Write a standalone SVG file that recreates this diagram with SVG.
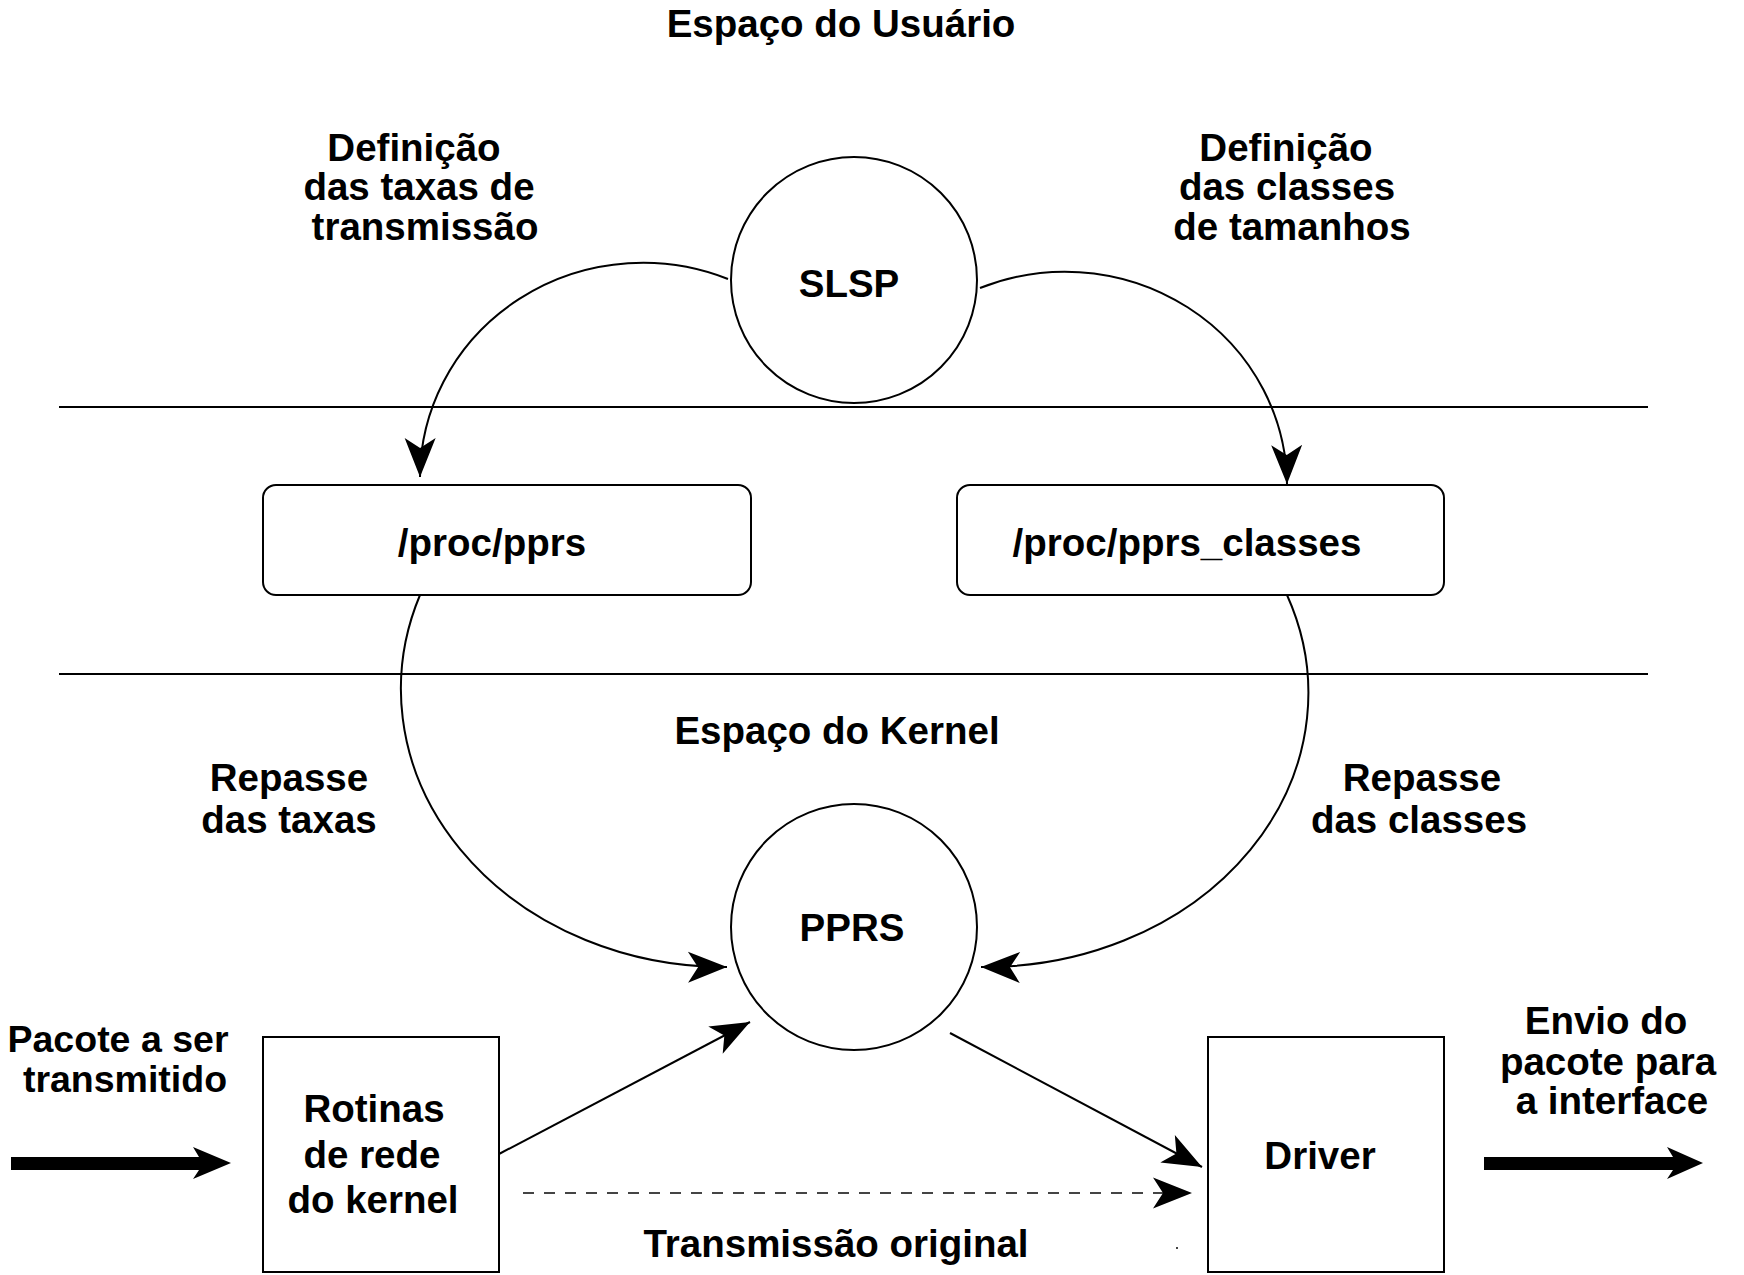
<svg xmlns="http://www.w3.org/2000/svg" width="1744" height="1275" viewBox="0 0 1744 1275">
<style>
text{font-family:"Liberation Sans",Arial,Helvetica,sans-serif;font-weight:bold;font-size:38.5px;fill:#000;text-anchor:middle}
.ln{fill:none;stroke:#000;stroke-width:2}
.sh{fill:#fff;stroke:#000;stroke-width:2}
.dash{fill:none;stroke:#444;stroke-width:2;stroke-dasharray:11 10}
</style>
<defs>
<marker id="ah" viewBox="-42 -18 44 36" refX="0" refY="0" markerWidth="44" markerHeight="36" markerUnits="userSpaceOnUse" orient="auto">
<path d="M0,0 L-39,-15.5 L-29,0 L-39,15.5 Z" fill="#000"/>
</marker>
</defs>
<rect width="1744" height="1275" fill="#fff"/>
<g id="separators">
<line class="ln" x1="59" y1="407" x2="1648" y2="407"/>
<line class="ln" x1="59" y1="674" x2="1648" y2="674"/>
</g>
<g id="labels">
<text x="841" y="37">Espaço do Usuário</text>
<text x="414" y="161">Definição</text>
<text x="419" y="200">das taxas de</text>
<text x="425" y="240">transmissão</text>
<text x="1286" y="161">Definição</text>
<text x="1287" y="200">das classes</text>
<text x="1292" y="240">de tamanhos</text>
<text x="837" y="744">Espaço do Kernel</text>
<text x="289" y="791">Repasse</text>
<text x="289" y="833">das taxas</text>
<text x="1422" y="791">Repasse</text>
<text x="1419" y="833">das classes</text>
<text x="118" y="1052" style="font-size:37.5px">Pacote a ser</text>
<text x="125" y="1092" style="font-size:37.5px">transmitido</text>
<text x="1606" y="1034">Envio do</text>
<text x="1608" y="1075">pacote para</text>
<text x="1612" y="1114">a interface</text>
<text x="836" y="1257">Transmissão original</text>
</g>
<g id="connectors">
<path class="ln" d="M728,279 A223,215 0 0,0 420,477" marker-end="url(#ah)"/>
<path class="ln" d="M980,288 A222,214 0 0,1 1287,484" marker-end="url(#ah)"/>
<path class="ln" d="M420,595 A324,278 0 0,0 727,967" marker-end="url(#ah)"/>
<path class="ln" d="M1287,595 A323,274 0 0,1 981,967" marker-end="url(#ah)"/>
<line class="ln" x1="499" y1="1154" x2="750" y2="1022" marker-end="url(#ah)"/>
<line class="ln" x1="950" y1="1033" x2="1202" y2="1167" marker-end="url(#ah)"/>
<line class="dash" x1="523" y1="1193" x2="1190" y2="1193"/>
<path d="M1192,1193 L1153,1177.5 L1163,1193 L1153,1208.5 Z" fill="#000"/>
<polygon points="11,1157 199,1157 193,1147 231,1163 193,1179 199,1170 11,1170" fill="#000"/>
<polygon points="1484,1157 1673,1157 1667,1147 1703,1163 1667,1179 1673,1170 1484,1170" fill="#000"/>
<rect x="1176" y="1247" width="2" height="2" fill="#444"/>
</g>
<g id="slsp">
<circle class="sh" cx="854" cy="280" r="123"/>
<text x="849" y="297">SLSP</text>
</g>
<g id="proc-pprs">
<rect class="sh" x="263" y="485" width="488" height="110" rx="13"/>
<text x="492" y="556">/proc/pprs</text>
</g>
<g id="proc-pprs-classes">
<rect class="sh" x="957" y="485" width="487" height="110" rx="13"/>
<text x="1187" y="556">/proc/pprs_classes</text>
</g>
<g id="pprs">
<circle class="sh" cx="854" cy="927" r="123"/>
<text x="852" y="941">PPRS</text>
</g>
<g id="rotinas">
<rect class="sh" x="263" y="1037" width="236" height="235"/>
<text x="374" y="1122">Rotinas</text>
<text x="372" y="1168">de rede</text>
<text x="373" y="1213">do kernel</text>
</g>
<g id="driver">
<rect class="sh" x="1208" y="1037" width="236" height="235"/>
<text x="1320" y="1169">Driver</text>
</g>
</svg>
